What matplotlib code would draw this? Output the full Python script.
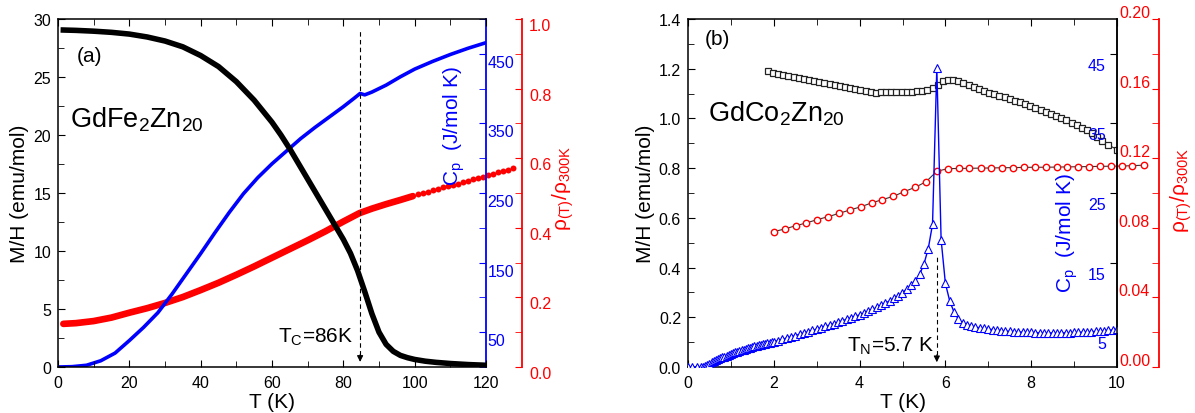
import numpy as np
import matplotlib.pyplot as plt
from matplotlib.ticker import MultipleLocator, FixedLocator, FormatStrFormatter
from matplotlib.transforms import ScaledTranslation

plt.rcParams['font.family'] = 'Liberation Sans'
plt.rcParams['mathtext.fontset'] = 'custom'
plt.rcParams['mathtext.rm'] = 'Liberation Sans'
plt.rcParams['mathtext.it'] = 'Liberation Sans:italic'

# ---- (a) GdFe2Zn20 ----
fe_m_T = [1.5, 5, 10, 15, 20, 25, 30, 35, 40, 45, 50, 55, 60, 62.5, 65, 67.5, 70, 72.5,
          75, 77.5, 80, 82, 84, 86, 88, 90, 92, 94, 96, 98, 100, 103, 106, 110, 115, 120]
fe_m = [29.05, 29.02, 28.95, 28.85, 28.7, 28.45, 28.1, 27.6, 26.85, 25.9, 24.6, 23.0,
        21.1, 20.0, 18.8, 17.5, 16.2, 14.9, 13.6, 12.3, 11.0, 9.8, 8.3, 6.5, 4.6, 3.0,
        1.95, 1.35, 1.0, 0.8, 0.65, 0.5, 0.4, 0.3, 0.21, 0.15]

fe_cp_T = [0, 4, 8, 12, 16, 20, 24, 28, 32, 36, 40, 44, 48, 52, 56, 60, 64, 68, 72, 76,
           80, 83, 84.7, 86, 88, 92, 96, 100, 105, 110, 115, 120]
fe_cp = [0, 0.5, 2.5, 9, 20, 38, 57, 78, 105, 134, 163, 193, 222, 249, 272, 292, 310,
         328, 344, 359, 374, 386, 393, 391, 395, 405, 417, 428, 439, 449, 458, 466]

fe_r_T = [1.5, 5, 10, 15, 20, 25, 30, 35, 40, 45, 50, 55, 60, 65, 70, 75, 80, 84.5,
          88, 92, 96, 99.5]
fe_r = [0.124, 0.126, 0.132, 0.142, 0.156, 0.169, 0.184, 0.201, 0.221, 0.242, 0.265,
        0.289, 0.314, 0.339, 0.364, 0.390, 0.418, 0.442, 0.455, 0.468, 0.480, 0.491]
fe_r_T2 = [101.0, 102.4, 103.8, 105.2, 106.6, 108.0, 109.4, 110.8, 112.2, 113.6, 115.0,
           116.4, 117.8, 119.2, 120.6, 122.0, 123.4, 124.8, 126.2, 127.6]
fe_r2 = [0.496, 0.500, 0.504, 0.508, 0.512, 0.516, 0.520, 0.524, 0.527, 0.531, 0.535,
         0.539, 0.543, 0.547, 0.551, 0.555, 0.559, 0.563, 0.567, 0.571]
tc_arrow = 84.7

# ---- (b) GdCo2Zn20 ----
co_m_T = [1.86, 1.98, 2.10, 2.22, 2.34, 2.46, 2.58, 2.70, 2.82, 2.94, 3.06, 3.18, 3.30,
          3.42, 3.54, 3.66, 3.78, 3.90, 4.02, 4.14, 4.26, 4.38, 4.50, 4.62, 4.74, 4.86,
          4.98, 5.10, 5.22, 5.34, 5.46, 5.58, 5.70, 5.82, 5.94, 6.06, 6.18, 6.30, 6.42,
          6.54, 6.66, 6.78, 6.90, 7.02, 7.14, 7.26, 7.38, 7.50, 7.62, 7.74, 7.86, 7.98,
          8.10, 8.22, 8.34, 8.46, 8.58, 8.70, 8.82, 8.94, 9.06, 9.18, 9.30, 9.42, 9.54,
          9.66, 9.78, 10.0]
co_m = [1.190, 1.184, 1.178, 1.174, 1.170, 1.166, 1.162, 1.158, 1.154, 1.149, 1.146,
        1.142, 1.139, 1.135, 1.131, 1.127, 1.123, 1.120, 1.116, 1.112, 1.108, 1.104,
        1.106, 1.107, 1.107, 1.107, 1.107, 1.108, 1.108, 1.110, 1.112, 1.116, 1.122,
        1.133, 1.152, 1.156, 1.155, 1.150, 1.142, 1.134, 1.125, 1.117, 1.110, 1.104,
        1.098, 1.092, 1.085, 1.078, 1.072, 1.065, 1.058, 1.050, 1.043, 1.035, 1.027,
        1.019, 1.011, 1.002, 0.993, 0.983, 0.973, 0.963, 0.952, 0.940, 0.927, 0.910,
        0.895, 0.875]

co_r_T = [2.00, 2.25, 2.51, 2.76, 3.01, 3.27, 3.52, 3.77, 4.03, 4.28, 4.53, 4.79, 5.04,
          5.30, 5.55, 5.80, 6.06, 6.31, 6.56, 6.82, 7.07, 7.32, 7.58, 7.83, 8.08, 8.34,
          8.59, 8.84, 9.10, 9.35, 9.60, 9.86, 10.11, 10.36, 10.62]
co_r = [0.0778, 0.0793, 0.0812, 0.0828, 0.0847, 0.0864, 0.0883, 0.0902, 0.0921, 0.0943,
        0.0962, 0.0981, 0.1008, 0.1033, 0.1065, 0.1125, 0.1140, 0.1141, 0.1142, 0.1143,
        0.1144, 0.1145, 0.1146, 0.1147, 0.1148, 0.1148, 0.1149, 0.1150, 0.1151, 0.1152,
        0.1153, 0.1154, 0.1155, 0.1157, 0.1160]

co_cp_T = [0.0, 0.1, 0.2, 0.3, 0.35, 0.40, 0.45, 0.50, 0.55, 0.60, 0.65, 0.70, 0.75, 0.80,
           0.85, 0.90, 0.95, 1.00, 1.05, 1.10, 1.15, 1.20, 1.25, 1.30, 1.35, 1.40, 1.45,
           1.50, 1.55, 1.60, 1.65, 1.70, 1.75, 1.80, 1.85, 1.90, 1.95, 2.00,
           2.1, 2.2, 2.3, 2.4, 2.5, 2.6, 2.7, 2.8, 2.9, 3.0, 3.1, 3.2, 3.3, 3.4, 3.5,
           3.6, 3.7, 3.8, 3.9, 4.0, 4.1, 4.2, 4.3, 4.4, 4.5, 4.6, 4.7, 4.8, 4.9, 5.0,
           5.1, 5.2, 5.3, 5.4, 5.5, 5.6, 5.7, 5.8, 5.9, 6.0, 6.1, 6.2, 6.3, 6.4, 6.5,
           6.6, 6.7, 6.8, 6.9, 7.0, 7.1, 7.2, 7.3, 7.4, 7.5, 7.6, 7.7, 7.8, 7.9, 8.0,
           8.1, 8.2, 8.3, 8.4, 8.5, 8.6, 8.7, 8.8, 8.9, 9.0, 9.1, 9.2, 9.3, 9.4, 9.5,
           9.6, 9.7, 9.8, 9.9, 10.0]
co_cp = [0.02, 0.02, 0.02, 0.02, 0.05, 0.20, 0.35, 0.50, 0.65, 0.80, 0.95, 1.09, 1.23,
         1.37, 1.50, 1.63, 1.75, 1.87, 1.98, 2.09, 2.20, 2.30, 2.40, 2.50, 2.60, 2.70,
         2.79, 2.88, 2.97, 3.05, 3.13, 3.21, 3.29, 3.37, 3.45, 3.52, 3.59, 3.66,
         3.80, 3.98, 4.16, 4.34, 4.52, 4.70, 4.88, 5.06, 5.25, 5.45, 5.64, 5.84, 6.04,
         6.24, 6.44, 6.65, 6.86, 7.07, 7.28, 7.50, 7.75, 8.00, 8.27, 8.55, 8.85, 9.17,
         9.50, 9.87, 10.27, 10.7, 11.2, 11.8, 12.4, 13.3, 14.8, 17.0, 20.5, 43.0, 18.3,
         12.0, 9.5, 7.9, 6.9, 6.3, 6.1, 5.9, 5.75, 5.63, 5.55, 5.45, 5.38, 5.30, 5.24,
         5.18, 5.13, 5.08, 5.04, 5.01, 4.98, 4.96, 4.94, 4.92, 4.91, 4.90, 4.90, 4.90,
         4.91, 4.92, 4.94, 4.96, 4.98, 5.01, 5.04, 5.08, 5.12, 5.17, 5.22, 5.28, 5.34,
         5.40]
tn_arrow = 5.8

BLUE = '#0000ff'
RED = '#ff0000'
TICK = 11.5


def shift_labels(ax, dy_px, fig):
    off = ScaledTranslation(0, dy_px / fig.dpi, fig.dpi_scale_trans)
    for lab in ax.get_yticklabels():
        lab.set_transform(lab.get_transform() + off)


fig = plt.figure(figsize=(11.95, 4.14), dpi=100)
fig.patch.set_facecolor('white')

# ===================== left panel =====================
ax1 = fig.add_axes([58 / 1195, 46 / 414, 428 / 1195, 348 / 414])
axc = ax1.twinx()
axr = ax1.twinx()
ax1.set_zorder(3)
axc.set_zorder(2)
axr.set_zorder(1)
ax1.patch.set_visible(False)

axr.plot(fe_r_T, fe_r, color=RED, lw=4.8, solid_capstyle='round')
axr.plot(fe_r_T2, fe_r2, 'o', color=RED, ms=4.3, mec='none', clip_on=False)
axc.plot(fe_cp_T, fe_cp, color=BLUE, lw=2.6)
ax1.plot(fe_m_T, fe_m, color='black', lw=4.0)

ax1.set_xlim(0, 120)
ax1.set_ylim(0, 30)
axc.set_ylim(0, 500)
axr.set_ylim(0, 1.0)

ax1.xaxis.set_major_locator(MultipleLocator(20))
ax1.xaxis.set_minor_locator(MultipleLocator(10))
ax1.yaxis.set_major_locator(MultipleLocator(5))
ax1.yaxis.set_minor_locator(MultipleLocator(2.5))
ax1.tick_params(which='both', direction='in', top=True, right=False, labelsize=TICK)
ax1.tick_params(which='major', length=5)
ax1.tick_params(which='minor', length=4)
ax1.tick_params(axis='y', pad=5)
ax1.tick_params(axis='x', pad=6)
ax1.spines['right'].set_visible(False)
for s in ['top', 'bottom', 'left', 'right']:
    ax1.spines[s].set_linewidth(1.1)

axc.yaxis.set_major_locator(FixedLocator([50, 150, 250, 350, 450]))
axc.yaxis.set_minor_locator(MultipleLocator(50))
axc.tick_params(which='both', direction='in', length=5, color=BLUE, labelcolor=BLUE,
                labelsize=TICK, pad=1)
for s in ['top', 'bottom', 'left']:
    axc.spines[s].set_visible(False)
axc.spines['right'].set_color(BLUE)
axc.spines['right'].set_linewidth(1.3)

axr.spines['right'].set_position(('axes', 1.084))
axr.yaxis.set_major_locator(MultipleLocator(0.2))
axr.yaxis.set_minor_locator(MultipleLocator(0.1))
axr.yaxis.set_major_formatter(FormatStrFormatter('%.1f'))
axr.tick_params(which='both', direction='in', length=5, color=RED, labelcolor=RED,
                labelsize=TICK, pad=5)
for s in ['top', 'bottom', 'left']:
    axr.spines[s].set_visible(False)
axr.spines['right'].set_color(RED)
axr.spines['right'].set_linewidth(1.3)

ax1.set_xlabel('T (K)', fontsize=15, labelpad=1)
ax1.set_ylabel('M/H (emu/mol)', fontsize=15, labelpad=3)
ax1.text(0.925, 0.695, r'C$_\mathregular{p}$  (J/mol K)', transform=ax1.transAxes,
         rotation=90, ha='center', va='center', color=BLUE, fontsize=15)
ax1.text(1.18, 0.517, r'ρ$_\mathregular{(T)}$/ρ$_\mathregular{300K}$', transform=ax1.transAxes,
         rotation=90, ha='center', va='center', color=RED, fontsize=15)
ax1.text(0.044, 0.894, '(a)', transform=ax1.transAxes, ha='left', va='center', fontsize=15)
ax1.text(0.028, 0.69, r'GdFe$_\mathregular{2}$Zn$_\mathregular{20}$', transform=ax1.transAxes,
         ha='left', va='baseline', fontsize=19.5)
ax1.text(82.7, 2.15, r'T$_\mathregular{C}$=86K', ha='right', va='baseline', fontsize=15)
ax1.plot([tc_arrow, tc_arrow], [1.0, 29.1], color='black', lw=0.8, dashes=(4, 3))
ax1.annotate('', xy=(tc_arrow, 0.2), xytext=(tc_arrow, 1.3),
             arrowprops=dict(arrowstyle='-|>', color='black', lw=0.8, mutation_scale=9))

# ===================== right panel =====================
ax2 = fig.add_axes([688 / 1195, 46 / 414, 429 / 1195, 348 / 414])
axr2 = ax2.twinx()
axc2 = ax2.twinx()
ax2.set_zorder(1)
axr2.set_zorder(2)
axc2.set_zorder(3)

ax2.plot(co_m_T, co_m, 's-', color='#222222', lw=0.8, ms=4.2, mfc='white',
         mec='#222222', mew=0.9)
axr2.plot(co_r_T, co_r, 'o-', color='#333333', lw=0.8, ms=4.6, mfc='white',
          mec=RED, mew=1.0, clip_on=False)
axc2.plot(co_cp_T, co_cp, '^-', color=BLUE, lw=1.0, ms=5.6, mfc='white',
          mec=BLUE, mew=0.8)

ax2.set_xlim(0, 10)
ax2.set_ylim(0, 1.4)
axc2.set_ylim(0, 50)
axr2.set_ylim(0, 0.20)

ax2.xaxis.set_major_locator(MultipleLocator(2))
ax2.xaxis.set_minor_locator(MultipleLocator(1))
ax2.yaxis.set_major_locator(MultipleLocator(0.2))
ax2.yaxis.set_minor_locator(MultipleLocator(0.1))
ax2.yaxis.set_major_formatter(FormatStrFormatter('%.1f'))
ax2.tick_params(which='both', direction='in', top=True, right=False, labelsize=TICK)
ax2.tick_params(which='major', length=5)
ax2.tick_params(which='minor', length=4)
ax2.tick_params(axis='y', pad=5)
ax2.tick_params(axis='x', pad=6)
for s in ['top', 'bottom', 'left', 'right']:
    ax2.spines[s].set_linewidth(1.1)

axc2.yaxis.tick_left()
axc2.spines['left'].set_position(('axes', 1.0))
for s in ['top', 'bottom', 'right']:
    axc2.spines[s].set_visible(False)
axc2.spines['left'].set_linewidth(1.1)
axc2.yaxis.set_major_locator(FixedLocator([5, 15, 25, 35, 45]))
axc2.tick_params(which='both', direction='out', length=5, color='black',
                 labelcolor=BLUE, labelsize=TICK, pad=3)

axr2.yaxis.tick_left()
axr2.spines['left'].set_position(('axes', 1.098))
for s in ['top', 'bottom', 'right']:
    axr2.spines[s].set_visible(False)
axr2.spines['left'].set_color(RED)
axr2.spines['left'].set_linewidth(1.3)
axr2.yaxis.set_major_locator(MultipleLocator(0.04))
axr2.yaxis.set_minor_locator(MultipleLocator(0.02))
axr2.yaxis.set_major_formatter(FormatStrFormatter('%.2f'))
axr2.tick_params(which='both', direction='out', length=5, color=RED, labelcolor=RED,
                 labelsize=TICK, pad=1.5)

ax2.set_xlabel('T (K)', fontsize=15, labelpad=1)
ax2.set_ylabel('M/H (emu/mol)', fontsize=15, labelpad=3)
ax2.text(0.883, 0.388, r'C$_\mathregular{p}$  (J/mol K)', transform=ax2.transAxes,
         rotation=90, ha='center', va='center', color=BLUE, fontsize=15)
ax2.text(1.149, 0.511, r'ρ$_\mathregular{(T)}$/ρ$_\mathregular{300K}$', transform=ax2.transAxes,
         rotation=90, ha='center', va='center', color=RED, fontsize=15)
ax2.text(0.04, 0.945, '(b)', transform=ax2.transAxes, ha='left', va='center', fontsize=15)
ax2.text(0.047, 0.707, r'GdCo$_\mathregular{2}$Zn$_\mathregular{20}$', transform=ax2.transAxes,
         ha='left', va='baseline', fontsize=19.5)
ax2.text(5.74, 0.064, r'T$_\mathregular{N}$=5.7 K', ha='right', va='baseline', fontsize=15)
ax2.plot([tn_arrow, tn_arrow], [0.05, 0.447], color='black', lw=0.8, dashes=(4, 3))
ax2.annotate('', xy=(tn_arrow, 0.008), xytext=(tn_arrow, 0.06),
             arrowprops=dict(arrowstyle='-|>', color='black', lw=0.8, mutation_scale=9))

# tick label vertical offsets as in the original figure
shift_labels(axc, -7, fig)
shift_labels(axr, -5, fig)
shift_labels(axc2, -10, fig)
shift_labels(axr2, 8, fig)

fig.savefig('out.png', dpi=100)
